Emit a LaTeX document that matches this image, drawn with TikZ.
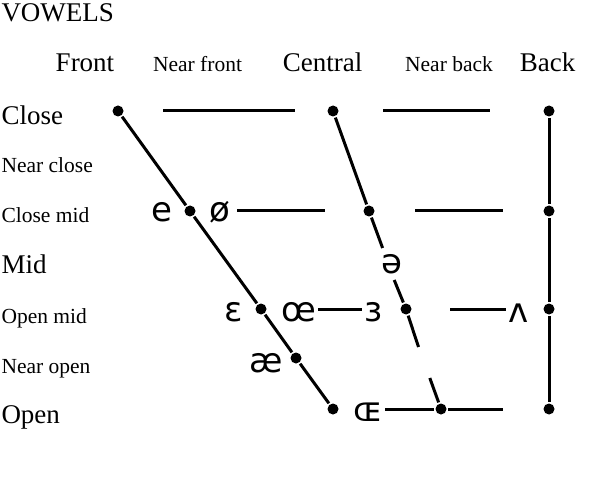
\documentclass[tikz,border=0pt]{standalone}
\usepackage{fontspec}
\setmainfont{Liberation Serif}
\newfontfamily\ipafont{DejaVu Sans}
\usetikzlibrary{positioning}

\begin{document}
\begin{tikzpicture}[
  x=1bp, y=-1bp,
  line width=3bp,
  bigtext/.style={font=\fontsize{27bp}{30bp}\selectfont, inner sep=0pt},
  smalltext/.style={font=\fontsize{21.5bp}{24bp}\selectfont, inner sep=0pt},
  vowel/.style={anchor=base, font=\ipafont\fontsize{34bp}{36bp}\selectfont, inner sep=0pt},
  dot/.style={circle, fill, inner sep=0pt, minimum size=11bp},
]
\useasboundingbox (0,0) rectangle (596,479);

\node[bigtext, anchor=base west] (title) at (0,22) {VOWELS};

% column heads
\node[bigtext, anchor=base] (hfront) at (85,72) {Front};
\node[smalltext, anchor=base] (hnfront) at (197.5,72) {Near front};
\node[bigtext, anchor=base] (hcentral) at (322.5,72) {Central};
\node[smalltext, anchor=base] (hnback) at (449,72) {Near back};
\node[bigtext, anchor=base] (hback) at (547.5,72) {Back};

% row heads
\node[bigtext, anchor=base west] (rclose) at (0,125) {Close};
\node[smalltext, anchor=base west] (rnclose) at (0,173) {Near close};
\node[smalltext, anchor=base west] (rcmid) at (0,223) {Close mid};
\node[bigtext, anchor=base west] (rmid) at (0,273) {Mid};
\node[smalltext, anchor=base west] (romid) at (0,323) {Open mid};
\node[smalltext, anchor=base west] (rnopen) at (0,373) {Near open};
\node[bigtext, anchor=base west] (ropen) at (0,423) {Open};

% dots
\node[dot] (f1) at (118,111) {};
\node[dot] (f2) at (190,211) {};
\node[dot] (f3) at (261,309) {};
\node[dot] (f4) at (296,358) {};
\node[dot] (f5) at (333,409) {};
\node[dot] (c1) at (333,111) {};
\node[dot] (c2) at (369,211) {};
\node[dot] (c3) at (406,309) {};
\node[dot] (c4) at (441,409) {};
\node[dot] (b1) at (549,111) {};
\node[dot] (b2) at (549,211) {};
\node[dot] (b3) at (549,309) {};
\node[dot] (b4) at (549,409) {};

% vowels
\node[vowel] (ve) at (162,222) {e};
\node[vowel] (voe) at (220,222) {ø};
\node[vowel] (veps) at (233.5,321) {ɛ};
\node[vowel] (voel) at (298.5,321) {œ};
\node[vowel] (vrev) at (374,321) {ɜ};
\node[vowel] (vwedge) at (519,322) {ʌ};
\node[vowel] (vschwa) at (392,273) {ə};
\node[vowel] (vae) at (266,372) {æ};
\node[vowel] (voecap) at (368.5,421) {ɶ};

% free ends
\coordinate (k1) at (163,111); \coordinate (k2) at (295,111);
\coordinate (k3) at (383,111); \coordinate (k4) at (490,111);
\coordinate (m1) at (237,211); \coordinate (m2) at (325,211);
\coordinate (m3) at (415,211); \coordinate (m4) at (503,211);
\coordinate (o1) at (318,309); \coordinate (o2) at (362,309);
\coordinate (o3) at (450,309); \coordinate (o4) at (506,309);
\coordinate (p1) at (385,409); \coordinate (p2) at (503,409);
\coordinate (g1) at (382.6,248); \coordinate (g2) at (394.2,280);
\coordinate (g3) at (418.5,347); \coordinate (g4) at (429.8,378);

\draw (f1)--(f2)--(f3)--(f4)--(f5);
\draw (c1)--(c2)--(g1); \draw (g2)--(c3)--(g3); \draw (g4)--(c4);
\draw (b1)--(b2)--(b3)--(b4);
\draw (k1)--(k2); \draw (k3)--(k4);
\draw (m1)--(m2); \draw (m3)--(m4);
\draw (o1)--(o2); \draw (o3)--(o4);
\draw (p1)--(c4)--(p2);
\end{tikzpicture}
\end{document}
